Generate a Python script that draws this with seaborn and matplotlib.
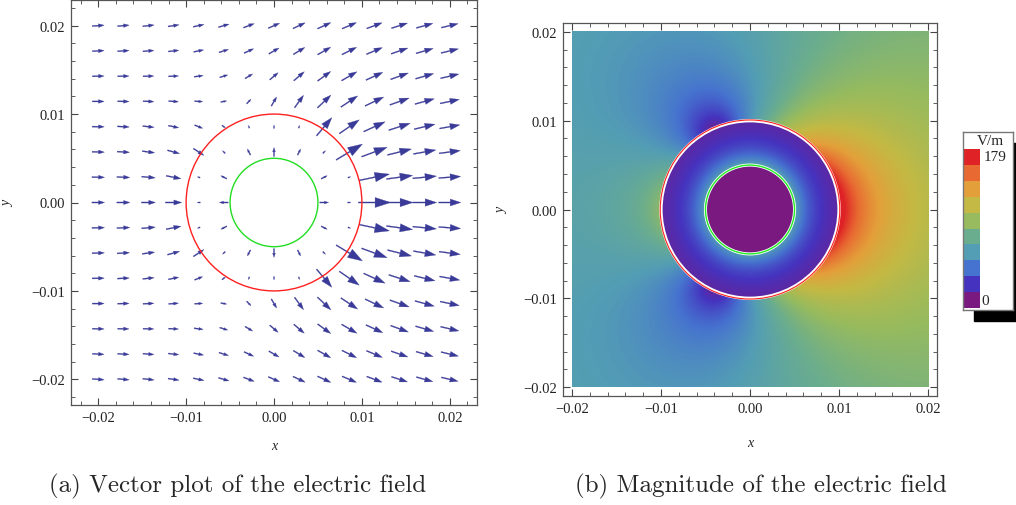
import numpy as np
import matplotlib
matplotlib.use("Agg")
import matplotlib.pyplot as plt
import seaborn as sns
from matplotlib.patches import Circle, Rectangle
from matplotlib.ticker import MultipleLocator, FuncFormatter

# ---------------- data ----------------
# arrow grid of the vector plot (15 x 15 points)
grid_x = np.linspace(-0.02, 0.02, 15)
grid_y = np.linspace(-0.02, 0.02, 15)
# geometry (m)
r_outer = 0.010
r_inner = 0.005
# field samples (position in m, field in V/m)
sample_x = [0.0101, -0.0101, 0.02, -0.02, 0.015, -0.015, -0.0055, 0.0, -0.02, 0.02,
            0.0, 0.0114, -0.0114, 0.0057, -0.0143, 0.0086, -0.0086, -0.0057, -0.0029, 0.0029]
sample_y = [0.0, 0.0, 0.0, 0.0, 0.0, 0.0, 0.0092, 0.02, 0.02, 0.02,
            0.0114, 0.0057, 0.0057, 0.0114, 0.0086, 0.0086, 0.0057, 0.0114, 0.0114, 0.0114]
sample_ex = [179, 82, 104, 80, 126, 80, 0, 53, 72, 88,
             27, 141, 70, 100, 74, 102, 30, 39, 21, 32]
sample_ey = [0, 0, 0, 0, 0, 0, 0, 9, 0, 18,
             48, 75, -25, 84, -13, 72, -26, -5, 21, 45]
n_terms = 4           # multipole terms used to describe the outside field
e_annulus = 64.0      # radial field at r_inner between the circles
annulus_falloff = 2.5
e_max = 179.0
# legend
legend_title = "V/m"
legend_top_label = "179"
legend_bottom_label = "0"
legend_colors = ["#7a1a80", "#4533bf", "#4673cf", "#539db5", "#6aad8e",
                 "#97bb5e", "#c3b944", "#e3a03a", "#e86a32", "#de2226"]
caption_a = "(a) Vector plot of the electric field"
caption_b = "(b) Magnitude of the electric field"


# --------- fit a smooth outside field through the samples ---------
zs = np.array(sample_x) + 1j * np.array(sample_y)
rows = np.stack([(r_outer / zs) ** n for n in range(n_terms + 1)], axis=1)
A = np.vstack([rows.real, rows.imag])
b = np.concatenate([np.array(sample_ex, float), -np.array(sample_ey, float)])
coef, *_ = np.linalg.lstsq(A, b, rcond=None)


def field(x, y):
    z = x + 1j * y
    r = np.abs(z)
    z_safe = np.where(r == 0, 1e-12, z)
    r_safe = np.where(r == 0, 1e-12, r)
    es = sum(coef[n] * (r_outer / z_safe) ** n for n in range(n_terms + 1))
    ex_out, ey_out = es.real, -es.imag
    qa = (r_inner / r_safe) ** annulus_falloff
    ex_ann = e_annulus * qa * x / r_safe
    ey_ann = e_annulus * qa * y / r_safe
    outside = r >= r_outer
    annulus = (r >= r_inner) & (r < r_outer)
    ex = np.where(outside, ex_out, np.where(annulus, ex_ann, 0.0))
    ey = np.where(outside, ey_out, np.where(annulus, ey_ann, 0.0))
    return ex, ey


sns.set_style("ticks")
plt.rcParams["font.family"] = ["Liberation Serif", "DejaVu Serif"]
plt.rcParams["axes.unicode_minus"] = True

cmap = sns.blend_palette(legend_colors, as_cmap=True)

W, H = 1016, 506
fig = plt.figure(figsize=(W / 100, H / 100), dpi=100)


def fmt(v, pos):
    s = f"{v:.2f}"
    if s == "-0.00":
        s = "0.00"
    return s.replace("-", "\u2212")


def style_frame(ax):
    for sp in ax.spines.values():
        sp.set_visible(True)
        sp.set_color("#555555")
        sp.set_linewidth(0.9)
    ax.xaxis.set_major_locator(MultipleLocator(0.01))
    ax.yaxis.set_major_locator(MultipleLocator(0.01))
    ax.xaxis.set_minor_locator(MultipleLocator(0.002))
    ax.yaxis.set_minor_locator(MultipleLocator(0.002))
    ax.xaxis.set_major_formatter(FuncFormatter(fmt))
    ax.yaxis.set_major_formatter(FuncFormatter(fmt))
    ax.tick_params(which="both", direction="in", top=True, right=True,
                   colors="#444444", labelcolor="#222222", labelsize=10.5)
    ax.tick_params(which="major", length=5, width=0.8, pad=4)
    ax.tick_params(which="minor", length=2.8, width=0.6)


# ---------------- (a) vector plot ----------------
axa = fig.add_axes([71 / W, 1 - 406 / H, 406 / W, 405 / H])
X, Y = np.meshgrid(grid_x, grid_y)
U, V = field(X, Y)
k_len = 2.2e-5          # arrow length per V/m (data units)
for x0, y0, u, v in zip(X.ravel(), Y.ravel(), U.ravel(), V.ravel()):
    mag = np.hypot(u, v)
    if mag < 1e-9:
        continue
    L = mag * k_len
    dx, dy = u / mag * L, v / mag * L
    axa.arrow(x0 - dx / 2, y0 - dy / 2, dx, dy, width=0.00012,
              head_width=0.31 * L, head_length=0.48 * L,
              length_includes_head=True, fc="#3a3a98", ec="#3a3a98", lw=0.2)
axa.add_patch(Circle((0, 0), r_outer, fill=False, ec="#ff2020", lw=1.0))
axa.add_patch(Circle((0, 0), r_inner, fill=False, ec="#22dd22", lw=1.0))
axa.set_xlim(-0.0231, 0.0231)
axa.set_ylim(-0.0229, 0.0229)
style_frame(axa)
axa.set_xlabel("x", fontstyle="italic", fontsize=10)
axa.set_ylabel("y", fontstyle="italic", fontsize=10)
axa.xaxis.set_label_coords(0.5, -0.085)
axa.yaxis.set_label_coords(-0.14, 0.5)

# ---------------- (b) magnitude ----------------
axb = fig.add_axes([563 / W, 1 - 397 / H, 374 / W, 373 / H])
xs = np.linspace(-0.02, 0.02, 500)
XX, YY = np.meshgrid(xs, xs)
EX, EY = field(XX, YY)
MAG = np.hypot(EX, EY)
axb.imshow(MAG, extent=[-0.02, 0.02, -0.02, 0.02], origin="lower", cmap=cmap,
           vmin=0, vmax=e_max, interpolation="bilinear", aspect="auto")
axb.add_patch(Circle((0, 0), r_outer, fill=False, ec="white", lw=2.4))
axb.add_patch(Circle((0, 0), r_outer + 0.00008, fill=False, ec="#ff2020", lw=0.8))
axb.add_patch(Circle((0, 0), r_inner, fill=False, ec="white", lw=2.2))
axb.add_patch(Circle((0, 0), r_inner, fill=False, ec="#22ee22", lw=1.0))
axb.set_xlim(-0.021, 0.021)
axb.set_ylim(-0.021, 0.021)
style_frame(axb)
axb.set_xlabel("x", fontstyle="italic", fontsize=10)
axb.set_ylabel("y", fontstyle="italic", fontsize=10)
axb.xaxis.set_label_coords(0.5, -0.107)
axb.yaxis.set_label_coords(-0.147, 0.5)

# ---------------- legend ----------------
fig.patches.append(Rectangle((974 / W, 1 - 322 / H), 50 / W, 178 / H,
                             transform=fig.transFigure, color="black", zorder=0))
axl = fig.add_axes([963 / W, 1 - 311 / H, 50 / W, 178 / H], zorder=5)
axl.set_xlim(0, 50)
axl.set_ylim(178, 0)
axl.set_xticks([])
axl.set_yticks([])
axl.set_facecolor("white")
for sp in axl.spines.values():
    sp.set_visible(True)
    sp.set_color("#777777")
    sp.set_linewidth(1.0)
box_top, box_h = 17.0, 15.9
for i, col in enumerate(reversed(legend_colors)):
    axl.add_patch(Rectangle((1, box_top + i * box_h), 16, box_h, color=col, lw=0))
axl.text(27, 8.5, legend_title, ha="center", va="center", fontsize=11)
axl.text(21, box_top + box_h / 2, legend_top_label, ha="left", va="center", fontsize=11)
axl.text(18, box_top + 9.5 * box_h, legend_bottom_label, ha="left", va="center", fontsize=11)

# ---------------- captions ----------------
fig.text(238 / W, 1 - 486 / H, caption_a, ha="center", va="center",
         family="cmr10", fontsize=18)
fig.text(761 / W, 1 - 486 / H, caption_b, ha="center", va="center",
         family="cmr10", fontsize=18)

fig.savefig("out.png", dpi=100)
